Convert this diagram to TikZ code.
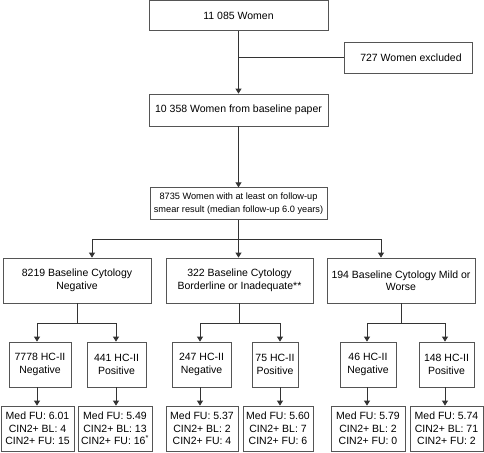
\documentclass[tikz,border=0pt]{standalone}
\usepackage{fontspec}
\setmainfont{Liberation Sans}
\usetikzlibrary{arrows.meta}
\definecolor{bordc}{HTML}{555555}
\definecolor{linec}{HTML}{333333}
\begin{document}
\begin{tikzpicture}[x=1pt,y=-1pt,
  box/.style={draw=bordc, line width=0.8pt, align=center, inner sep=0pt,
    font=\fontsize{10.5}{12.5}\selectfont},
  conn/.style={draw=linec, line width=0.8pt},
  arr/.style={conn, -{Triangle[length=5pt,width=6pt]}}]
\useasboundingbox (0,0) rectangle (484,452);
% top chain
\node[box, minimum width=179pt, minimum height=30.5pt] (b1) at (238.5,15.6) {11 085 Women};
\node[box, minimum width=128pt, minimum height=31pt] (ex) at (408,57.5) {\hspace*{6pt}727 Women excluded};
\node[box, minimum width=179pt, minimum height=32pt] (b2) at (238.5,110) {10 358 Women from baseline paper};
\node[box, minimum width=177pt, minimum height=31.5pt, font=\fontsize{9.2}{12.5}\selectfont] (b3) at (238.5,203.5)
  {8735 Women with at least on follow-up\\smear result (median follow-up 6.0 years)};
% level 2
\node[box, minimum width=148pt, minimum height=45pt] (A) at (77,280.5) {8219 Baseline Cytology\\Negative};
\node[box, minimum width=147pt, minimum height=45pt] (B) at (239.5,280.5) {322 Baseline Cytology\\Borderline or Inadequate**};
\node[box, minimum width=148pt, minimum height=45pt] (C) at (401,280.5) {194 Baseline Cytology Mild or\\Worse};
% HC-II level
\node[box, minimum width=62pt, minimum height=45pt] (A1) at (40,364.5) {7778 HC-II\\Negative};
\node[box, minimum width=59pt, minimum height=45pt] (A2) at (116.5,364.5) {441 HC-II\\Positive};
\node[box, minimum width=59pt, minimum height=45pt] (B1) at (201.5,364.5) {247 HC-II\\Negative};
\node[box, minimum width=46pt, minimum height=45pt] (B2) at (275,364.5) {75 HC-II\\Positive};
\node[box, minimum width=56pt, minimum height=45pt] (C1) at (368,364.5) {46 HC-II\\Negative};
\node[box, minimum width=55pt, minimum height=45pt] (C2) at (446.5,364.5) {148 HC-II\\Positive};
% bottom level
\node[box, minimum width=73pt, minimum height=45pt] (D1) at (37.5,428.5) {Med FU: 6.01\\CIN2+ BL: 4\\CIN2+ FU: 15};
\node[box, minimum width=74pt, minimum height=45pt] (D2) at (115,428.5) {Med FU: 5.49\\CIN2+ BL: 13\\CIN2+ FU: 16\textsuperscript{*}};
\node[box, minimum width=72pt, minimum height=45pt] (D3) at (202,428.5) {Med FU: 5.37\\CIN2+ BL: 2\\CIN2+ FU: 4};
\node[box, minimum width=70pt, minimum height=45pt] (D4) at (278,428.5) {Med FU: 5.60\\CIN2+ BL: 7\\CIN2+ FU: 6};
\node[box, minimum width=74pt, minimum height=45pt] (D5) at (368,428.5) {Med FU: 5.79\\CIN2+ BL: 2\\CIN2+ FU: 0};
\node[box, minimum width=73pt, minimum height=45pt] (D6) at (446.5,428.5) {Med FU: 5.74\\CIN2+ BL: 71\\CIN2+ FU: 2};
% coordinates for branches
\coordinate (hL) at (92,239);
\coordinate (hR) at (381,239);
\coordinate (aL) at (37,323);
\coordinate (aR) at (116,323);
\coordinate (bL) at (200,323);
\coordinate (bR) at (280,323);
\coordinate (cL) at (367,323);
\coordinate (cR) at (445,323);
% top connectors
\draw[arr] (b1.south) -- (b2.north);
\draw[conn] (ex.west) -- (ex.west -| b1.south);
\draw[arr] (b2.south) -- (b3.north);
% level 2 branch
\draw[conn] (b3.south) -- (b3.south |- hL);
\draw[conn] (hL) -- (hR);
\draw[arr] (hL) -- (hL |- A.north);
\draw[arr] (b3.south |- hL) -- (b3.south |- B.north);
\draw[arr] (hR) -- (hR |- C.north);
% group A
\draw[conn] (A.south) -- (A.south |- aL);
\draw[conn] (aL) -- (aR);
\draw[arr] (aL) -- (aL |- A1.north);
\draw[arr] (aR) -- (aR |- A2.north);
\draw[arr] (aL |- A1.south) -- (aL |- D1.north);
\draw[arr] (aR |- A2.south) -- (aR |- D2.north);
% group B
\draw[conn] (B.south) -- (B.south |- bL);
\draw[conn] (bL) -- (bR);
\draw[arr] (bL) -- (bL |- B1.north);
\draw[arr] (bR) -- (bR |- B2.north);
\draw[arr] (bL |- B1.south) -- (bL |- D3.north);
\draw[arr] (bR |- B2.south) -- (bR |- D4.north);
% group C
\draw[conn] (C.south) -- (C.south |- cL) coordinate (cM);
\draw[conn] (cL) -- (cR);
\draw[arr] (cL) -- (cL |- C1.north);
\draw[arr] (cR) -- (cR |- C2.north);
\draw[arr] (cL |- C1.south) -- (cL |- D5.north);
\draw[arr] (cR |- C2.south) -- (cR |- D6.north);
\end{tikzpicture}
\end{document}
